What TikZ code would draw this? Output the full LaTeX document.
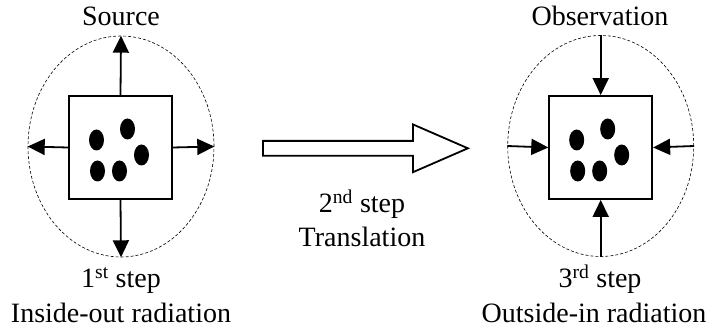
\documentclass[tikz,border=0pt]{standalone}
\usepackage{fontspec}
\setmainfont{Liberation Serif}
\usetikzlibrary{arrows.meta,shapes.geometric,shapes.arrows,positioning}
\begin{document}
\begin{tikzpicture}[x=1pt,y=-1pt,font=\fontsize{28}{32}\selectfont]
    \tikzset{box/.style={draw,line width=1.8pt,minimum size=103pt,inner sep=0pt}}
    \tikzset{ring/.style={draw,ellipse,densely dashed,line width=0.6pt,minimum width=186pt,minimum height=221pt,inner sep=0pt}}
    \tikzset{dot/.style={fill,ellipse,minimum width=15pt,minimum height=21pt,inner sep=0pt}}
    \tikzset{ray/.style={line width=1.8pt,-{Triangle[length=17pt,width=16pt]}}}
    \tikzset{caption/.style={anchor=base,inner sep=0pt}}
    \useasboundingbox (0,0) rectangle (714,328);
    \node[ring] (srcring) at (121,146.5) {};
    \node[box] (src) at (120.5,147.5) {};
    \node[ring] (obsring) at (600.7,146) {};
    \node[box] (obs) at (600.7,147.5) {};
    \foreach \dx/\dy [count=\i] in {-24/-7.5, 7/-18.5, 21/7.5, -23/23.5, -1/23.5} {
        \node[dot] (srcdot\i) at ([shift={(\dx,\dy)}]src.center) {};
        \node[dot] (obsdot\i) at ([shift={(\dx,\dy)}]obs.center) {};
    }
    \foreach \side in {north,south,east,west} {
        \draw[ray] (src.\side) -- (srcring.\side);
        \draw[ray] (obsring.\side) -- (obs.\side);
    }
    \node[draw,single arrow,line width=1.8pt,inner sep=6.5pt,single arrow head extend=16.5pt,
        single arrow tip angle=47,minimum height=205pt,anchor=tail] (trans) at (262,148.3) {};
    \node[caption] (source) at (121,26) {Source};
    \node[caption] (obstext) at (600,26) {Observation};
    \node[caption] (step1) at (121,288) {1\textsuperscript{st} step};
    \node[caption] (step1text) at (121,322) {Inside-out radiation};
    \node[caption] (step2) at (362,213) {2\textsuperscript{nd} step};
    \node[caption] (step2text) at (362,246.5) {Translation};
    \node[caption] (step3) at (600,288) {3\textsuperscript{rd} step};
    \node[caption] (step3text) at (594,322) {Outside-in radiation};
\end{tikzpicture}
\end{document}
